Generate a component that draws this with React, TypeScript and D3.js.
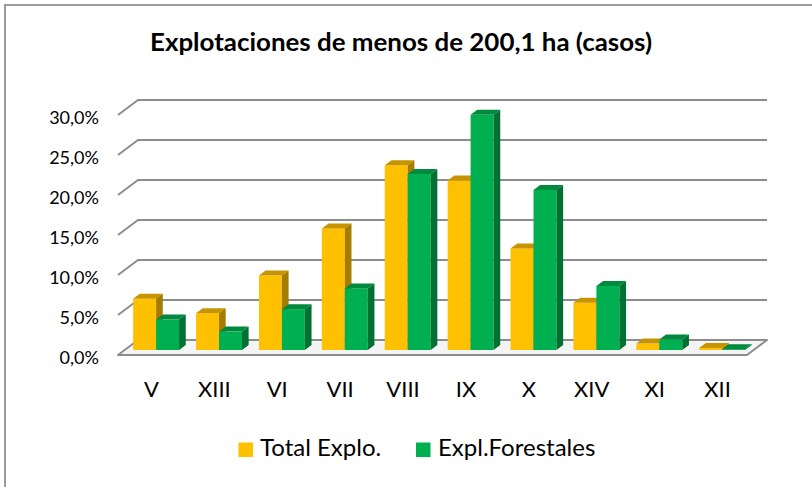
import * as d3 from 'd3'
import React from 'react'

const categories = ['V', 'XIII', 'VI', 'VII', 'VIII', 'IX', 'X', 'XIV', 'XI', 'XII']
const totalExplo = [6.4, 4.6, 9.3, 15.2, 23.1, 21.2, 12.7, 5.9, 0.8, 0.25]
const explForestales = [3.8, 2.3, 5.1, 7.7, 22.0, 29.4, 20.0, 8.0, 1.3, 0.1]
const seriesNames = ['Total Explo.', 'Expl.Forestales']
const yTicks = [0, 5, 10, 15, 20, 25, 30]
const title = 'Explotaciones de menos de 200,1 ha (casos)'

const colors = [
  { front: '#FFC000', top: '#C69400', side: '#A57B00' },
  { front: '#00B050', top: '#008A3E', side: '#007033' },
]

const W = 812, H = 487
const font = 'Lato, "Open Sans", sans-serif'

// plot frame (front plane) and the depth offset of the back wall
const x0 = 118, x1 = 747, depthX = 20, depthY = -15

const fmt = (v: number) => v.toFixed(1).replace('.', ',') + '%'

export default function App() {
  React.useEffect(() => { document.body.style.margin = '0' }, [])

  const
    y = d3.scaleLinear().domain([0, 30]).range([355, 115]),
    x = d3.scaleBand<string>().domain(categories).range([x0, x1]).paddingInner(0.27).paddingOuter(0.135),
    xs = d3.scaleBand<number>().domain([0, 1]).range([0, x.bandwidth()]),
    // bars sit in the middle third of the depth
    bx = depthX / 3, by = depthY / 3,
    series = [totalExplo, explForestales],
    pts = (p: number[][]) => p.map(q => q.join(',')).join(' ')

  const bars: JSX.Element[] = []
  categories.forEach((c, i) => {
    series.forEach((s, k) => {
      const
        l = x(c)! + xs(k)! + bx,
        r = l + xs.bandwidth(),
        b = y(0) + by,
        t = y(s[i]) + by,
        col = colors[k]
      bars.push(
        <g key={c + k}>
          <rect x={l} y={t} width={r - l} height={b - t} fill={col.front} />
          <polygon points={pts([[l, t], [l + bx, t + by], [r + bx, t + by], [r, t]])} fill={col.top} />
          <polygon points={pts([[r, t], [r + bx, t + by], [r + bx, b + by], [r, b]])} fill={col.side} />
        </g>
      )
    })
  })

  return (
    <svg width={W} height={H} style={{ display: 'block', fontFamily: font }}>
      <rect width={W} height={H} fill='#fff' />
      <path d={`M5,${H} V5 H${W}`} fill='none' stroke='#9a9a9a' strokeWidth='2' />

      <text x={401} y={51} textAnchor='middle' fontSize='25' fontWeight='bold' fill='#000'
        textLength={502} lengthAdjust='spacingAndGlyphs'>{title}</text>

      {yTicks.filter(v => v > 0).map(v => (
        <path key={v} d={`M${x0},${y(v)} L${x0 + depthX},${y(v) + depthY} H${x1 + depthX}`}
          fill='none' stroke='#8c8c8c' strokeWidth='2' />
      ))}
      <polygon points={pts([[x0, y(0)], [x0 + depthX, y(0) + depthY], [x1 + depthX, y(0) + depthY], [x1, y(0)]])}
        fill='#f4f4f4' stroke='#8c8c8c' strokeWidth='2' strokeLinejoin='round' />

      {yTicks.map(v => (
        <text key={v} x={99} y={y(v) + 8.5} textAnchor='end' fontSize='18' fill='#000'>{fmt(v)}</text>
      ))}

      {bars}

      {categories.map(c => (
        <text key={c} x={x(c)! + x.bandwidth() / 2 + 2} y={397} textAnchor='middle' fontSize='22' fill='#000'>{c}</text>
      ))}

      <g>
        <rect x={238.5} y={442.5} width={14.5} height={14.5} fill={colors[0].front} />
        <text x={260} y={456} fontSize='24' fill='#000'>{seriesNames[0]}</text>
        <rect x={416} y={442.5} width={14.5} height={14.5} fill={colors[1].front} />
        <text x={438} y={456} fontSize='24' fill='#000'>{seriesNames[1]}</text>
      </g>
    </svg>
  )
}
